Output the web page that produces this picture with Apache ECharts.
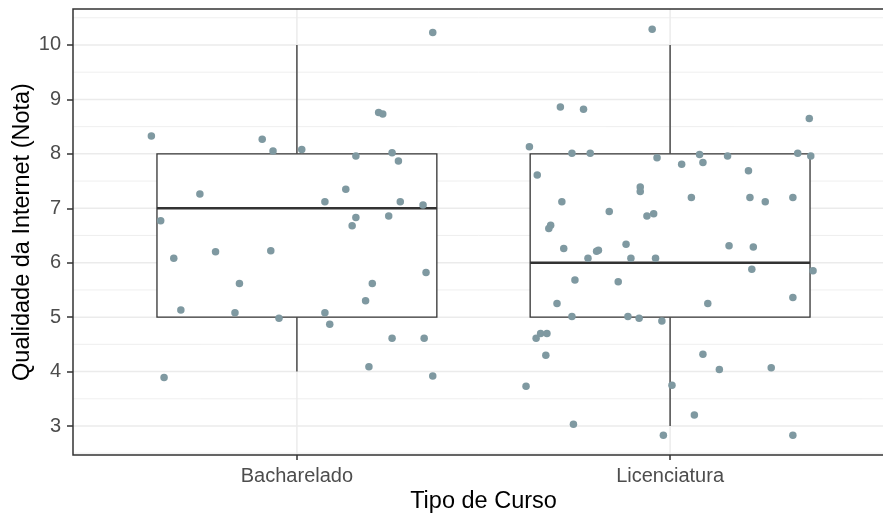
<!DOCTYPE html>
<html>
<head>
<meta charset="utf-8">
<script src="https://cdn.jsdelivr.net/npm/echarts@6/dist/echarts.min.js"></script>
<style>
html,body{margin:0;padding:0;background:#fff;overflow:hidden;}
#chart{width:883px;height:517px;}
</style>
</head>
<body>
<div id="chart"></div>
<script>
// ---- data ----
const categories = ['Bacharelado', 'Licenciatura'];
const boxMin    = [4, 3];
const boxQ1     = [5, 5];
const boxMedian = [7, 6];
const boxQ3     = [8, 8];
const boxMax    = [10, 10];

// jittered points (x = category position + jitter, y = jittered score)
const bachX = [0.610, 0.907, 0.936, 0.740, 0.635, 0.782, 0.930, 0.670, 0.846, 0.689, 0.834, 0.952, 0.644,
               1.364, 1.219, 1.230, 1.013, 1.158, 1.255, 1.272, 1.131, 1.075, 1.277, 1.338, 1.158, 1.148, 1.246,
               1.346, 1.202, 1.184, 1.075, 1.088, 1.255, 1.341, 1.193, 1.364];
const bachY = [8.33, 8.27, 8.05, 7.26, 6.77, 6.20, 6.22, 6.08, 5.62, 5.13, 5.08, 4.98, 3.89,
               10.23, 8.76, 8.73, 8.08, 7.96, 8.02, 7.87, 7.35, 7.12, 7.12, 7.06, 6.83, 6.68, 6.86,
               5.82, 5.62, 5.30, 5.08, 4.87, 4.61, 4.61, 4.09, 3.92];

const licX = [1.706, 1.623, 1.737, 1.644, 1.710, 1.680, 1.675, 1.715,
              1.952, 1.768, 2.373, 1.786, 1.965, 2.031, 2.079, 2.088, 2.154, 2.342, 2.377, 2.210, 1.920, 1.920,
              2.057, 2.214, 2.255, 2.329, 1.837, 1.938, 1.956, 1.882, 2.158, 2.223,
              1.780, 1.803, 1.808, 1.895, 1.961, 1.861, 2.219, 2.383, 2.329, 2.101, 1.887, 1.917, 1.978, 2.088,
              2.132, 2.271, 2.005, 2.065, 1.982, 2.329,
              1.745, 1.697, 1.737, 1.641, 1.653, 1.670, 1.667, 1.614, 1.741];
const licY = [8.86, 8.13, 8.01, 7.61, 7.12, 6.69, 6.63, 6.26,
              10.29, 8.82, 8.65, 8.01, 7.93, 7.81, 7.99, 7.84, 7.96, 8.01, 7.96, 7.69, 7.39, 7.31,
              7.20, 7.20, 7.12, 7.20, 6.94, 6.86, 6.90, 6.34, 6.31, 6.29,
              6.08, 6.21, 6.23, 6.08, 6.08, 5.65, 5.88, 5.85, 5.36, 5.25, 5.01, 4.98, 4.93, 4.32,
              4.04, 4.07, 3.75, 3.20, 2.83, 2.83,
              5.68, 5.25, 5.01, 4.61, 4.70, 4.70, 4.30, 3.73, 3.03];

const yTicks = [3, 4, 5, 6, 7, 8, 9, 10];
const yMinorTicks = [2.5, 3.5, 4.5, 5.5, 6.5, 7.5, 8.5, 9.5, 10.5];
const xTicks = [1, 2];
const yRange = [2.467, 10.661];
const xRange = [0.4, 2.6];

// ---- chart ----
const FONT = '"Liberation Sans", Arial, sans-serif';
const chart = echarts.init(document.getElementById('chart'), null, {renderer: 'canvas'});

const points = bachX.map((x, i) => [x, bachY[i]]).concat(licX.map((x, i) => [x, licY[i]]));
const boxData = categories.map((c, i) => [i + 1, boxMin[i], boxQ1[i], boxMedian[i], boxQ3[i], boxMax[i]]);

// grid line data: [orientation (0 = horizontal, 1 = vertical), value, major flag]
const gridData = []
  .concat(yMinorTicks.map(v => [0, v, 0]))
  .concat(yTicks.map(v => [0, v, 1]))
  .concat(xTicks.map(v => [1, v, 1]));

const option = {
  animation: false,
  backgroundColor: '#ffffff',
  grid: {
    left: 73, right: -11, top: 9, bottom: 62,
    containLabel: false, outerBoundsMode: 'none',
    show: true, borderColor: '#333333', borderWidth: 1.5,
    backgroundColor: 'transparent', z: 5
  },
  xAxis: {
    type: 'value', min: xRange[0], max: xRange[1],
    name: 'Tipo de Curso', nameLocation: 'middle', nameGap: 35, nameMoveOverlap: false,
    nameTextStyle: {fontFamily: FONT, fontSize: 23.5, color: '#000000'},
    axisLine: {show: false},
    axisTick: {show: true, customValues: xTicks, length: 5, lineStyle: {color: '#333333', width: 1.5}},
    axisLabel: {show: true, customValues: xTicks, margin: 11, fontFamily: FONT, fontSize: 20, color: '#4D4D4D',
      formatter: v => categories[Math.round(v) - 1] || ''},
    splitLine: {show: false}, minorSplitLine: {show: false}
  },
  yAxis: {
    type: 'value', min: yRange[0], max: yRange[1],
    name: 'Qualidade da Internet (Nota)', nameLocation: 'middle', nameGap: 38, nameMoveOverlap: false,
    nameTextStyle: {fontFamily: FONT, fontSize: 23.5, color: '#000000'},
    axisLine: {show: false},
    axisTick: {show: true, customValues: yTicks, length: 6, lineStyle: {color: '#333333', width: 1.5}},
    axisLabel: {show: true, customValues: yTicks, margin: 12, fontFamily: FONT, fontSize: 20, color: '#4D4D4D',
      formatter: v => String(Math.round(v))},
    splitLine: {show: false}
  },
  series: [
    {
      type: 'custom', z: 1, silent: true,
      data: gridData,
      encode: {x: 1, y: 1},
      renderItem: function (params, api) {
        const orient = api.value(0), v = api.value(1), major = api.value(2);
        let p1, p2;
        if (orient === 0) {
          p1 = api.coord([xRange[0], v]); p2 = api.coord([xRange[1], v]);
        } else {
          p1 = api.coord([v, yRange[0]]); p2 = api.coord([v, yRange[1]]);
        }
        return {
          type: 'line',
          shape: {x1: p1[0], y1: p1[1], x2: p2[0], y2: p2[1]},
          style: {stroke: '#EBEBEB', lineWidth: major ? 1.5 : 0.8}
        };
      }
    },
    {
      type: 'custom', z: 2, silent: true,
      data: boxData,
      encode: {x: 0, y: [1, 2, 3, 4, 5]},
      renderItem: function (params, api) {
        const x = api.value(0);
        const hw = 0.375;
        const pMin = api.coord([x, api.value(1)]);
        const pQ1R = api.coord([x + hw, api.value(2)]);
        const pMedL = api.coord([x - hw, api.value(3)]);
        const pMedR = api.coord([x + hw, api.value(3)]);
        const pQ3L = api.coord([x - hw, api.value(4)]);
        const pMax = api.coord([x, api.value(5)]);
        const pQ3 = api.coord([x, api.value(4)]);
        const pQ1 = api.coord([x, api.value(2)]);
        const stroke = {stroke: '#333333', lineWidth: 1.3, fill: null};
        return {
          type: 'group',
          children: [
            {type: 'line', shape: {x1: pQ3[0], y1: pQ3[1], x2: pMax[0], y2: pMax[1]}, style: stroke},
            {type: 'line', shape: {x1: pQ1[0], y1: pQ1[1], x2: pMin[0], y2: pMin[1]}, style: stroke},
            {type: 'rect', shape: {x: pQ3L[0], y: pQ3L[1], width: pQ1R[0] - pQ3L[0], height: pQ1R[1] - pQ3L[1]},
              style: {fill: '#ffffff', stroke: '#333333', lineWidth: 1.3}},
            {type: 'line', shape: {x1: pMedL[0], y1: pMedL[1], x2: pMedR[0], y2: pMedR[1]},
              style: {stroke: '#333333', lineWidth: 2.6}}
          ]
        };
      }
    },
    {
      type: 'scatter', z: 3, silent: true,
      data: points,
      symbol: 'circle', symbolSize: 7.5,
      itemStyle: {color: '#7F99A1', opacity: 1}
    }
  ]
};
chart.setOption(option);
</script>
</body>
</html>
